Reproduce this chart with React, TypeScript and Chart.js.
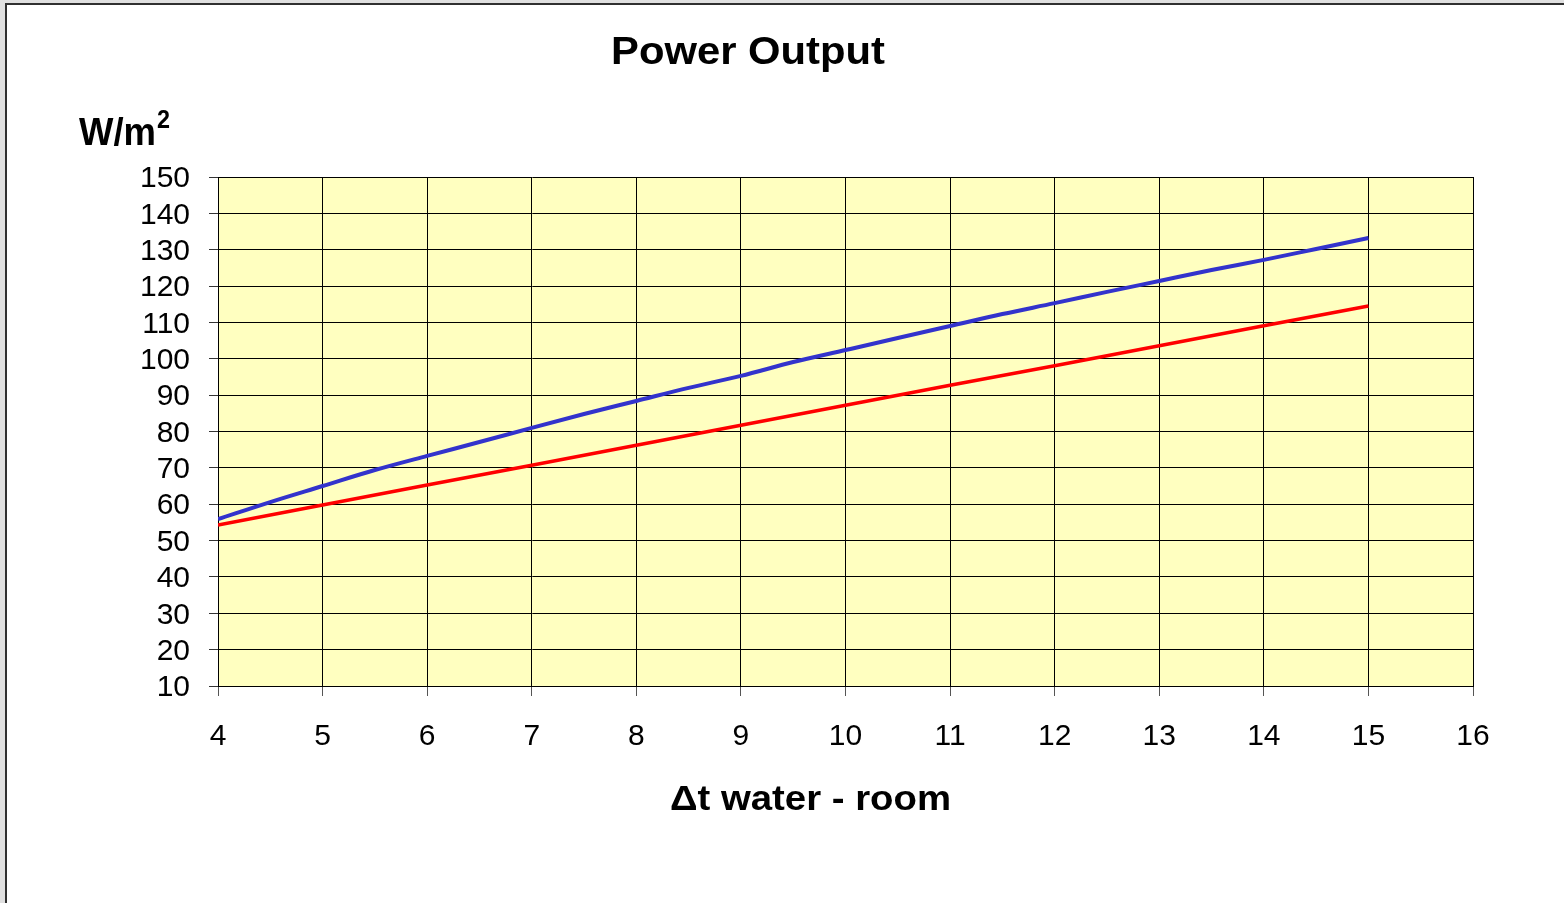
import React, { useEffect, useRef } from "react";
import { Chart, registerables } from "chart.js";

Chart.register(...registerables);

const titleText = "Power Output";
const xTitleText = "\u0394t water - room";
const yTitleMain = "W/m";
const yTitleSup = "2";

const blueX = [4, 4.5, 5, 5.5, 6, 6.5, 7, 7.5, 8, 8.5, 9, 9.5, 10, 10.5, 11, 11.5, 12, 12.5, 13, 13.5, 14, 14.5, 15];
const blueValues = [55.9, 60.6, 65.0, 69.4, 73.3, 77.1, 81.0, 84.8, 88.4, 92.0, 95.3, 99.1, 102.4, 105.7, 109.0, 112.3, 115.3, 118.4, 121.4, 124.4, 127.2, 130.2, 133.2];

const redX = [4, 5, 6, 7, 8, 9, 10, 11, 12, 13, 14, 15];
const redValues = [54.3, 59.8, 65.3, 70.7, 76.2, 81.7, 87.2, 92.7, 98.1, 103.6, 109.1, 114.5];

const xMin = 4;
const xMax = 16;
const yMin = 10;
const yMax = 150;

const FONT = "'Liberation Sans', Arial, sans-serif";

function drawStretched(ctx: CanvasRenderingContext2D, text: string, font: string, left: number, baseline: number, targetWidth: number) {
  ctx.save();
  ctx.font = font;
  const w = ctx.measureText(text).width;
  const s = w > 0 ? targetWidth / w : 1;
  ctx.translate(left, baseline);
  ctx.scale(s, 1);
  ctx.textAlign = "left";
  ctx.textBaseline = "alphabetic";
  ctx.fillStyle = "#000";
  ctx.fillText(text, 0, 0);
  ctx.restore();
}

const decorPlugin = {
  id: "decor",
  beforeDraw(chart: any) {
    const { ctx, chartArea } = chart;
    ctx.save();
    ctx.fillStyle = "#FFFFC0";
    ctx.fillRect(chartArea.left, chartArea.top, chartArea.right - chartArea.left, chartArea.bottom - chartArea.top);
    ctx.restore();
  },
  afterDraw(chart: any) {
    const ctx = chart.ctx as CanvasRenderingContext2D;
    drawStretched(ctx, titleText, `bold 38px ${FONT}`, 611, 64, 274);
    drawStretched(ctx, xTitleText, `bold 35px ${FONT}`, 670, 810, 281);
    drawStretched(ctx, yTitleMain, `bold 38px ${FONT}`, 79, 145, 77);
    drawStretched(ctx, yTitleSup, `bold 25px ${FONT}`, 157, 128, 13);
  },
};

export default function App() {
  const canvasRef = useRef<HTMLCanvasElement | null>(null);

  useEffect(() => {
    if (!canvasRef.current) return;
    const chart = new Chart(canvasRef.current, {
      type: "line",
      data: {
        datasets: [
          {
            label: "Series A",
            data: blueX.map((x, i) => ({ x, y: blueValues[i] })),
            borderColor: "#3333CC",
            borderWidth: 4,
            pointRadius: 0,
            cubicInterpolationMode: "monotone",
            fill: false,
          },
          {
            label: "Series B",
            data: redX.map((x, i) => ({ x, y: redValues[i] })),
            borderColor: "#FF0000",
            borderWidth: 3.5,
            pointRadius: 0,
            tension: 0,
            fill: false,
          },
        ],
      },
      options: {
        animation: false,
        responsive: false,
        maintainAspectRatio: false,
        layout: { padding: { top: 177, right: 91, left: 0, bottom: 0 } },
        plugins: {
          legend: { display: false },
          title: { display: false },
          tooltip: { enabled: false },
        },
        scales: {
          x: {
            type: "linear",
            min: xMin,
            max: xMax,
            ticks: {
              stepSize: 1,
              color: "#000",
              font: { family: FONT, size: 30 },
              padding: 23,
              maxRotation: 0,
              autoSkip: false,
            },
            grid: { color: "#000", lineWidth: 1, tickLength: 10, tickColor: "#555" },
            border: { color: "#000", width: 1 },
            afterFit: (s: any) => {
              s.height = 217;
            },
          },
          y: {
            type: "linear",
            min: yMin,
            max: yMax,
            ticks: {
              stepSize: 10,
              color: "#000",
              font: { family: FONT, size: 30 },
              padding: 19,
              labelOffset: 2,
              autoSkip: false,
            },
            grid: { color: "#000", lineWidth: 1, tickLength: 9, tickColor: "#333" },
            border: { color: "#000", width: 1 },
            afterFit: (s: any) => {
              s.width = 218;
            },
          },
        },
      } as any,
      plugins: [decorPlugin],
    });
    return () => chart.destroy();
  }, []);

  return (
    <div style={{ position: "fixed", left: 0, top: 0, width: 1564, height: 903, background: "#e0e0e0", overflow: "hidden" }}>
      <div
        style={{
          position: "absolute",
          left: 5,
          top: 3,
          width: 1600,
          height: 950,
          background: "#fff",
          borderLeft: "2px solid #303030",
          borderTop: "2px solid #303030",
        }}
      />
      <canvas ref={canvasRef} width={1564} height={903} style={{ position: "absolute", left: 0, top: 0, width: 1564, height: 903 }} />
    </div>
  );
}
